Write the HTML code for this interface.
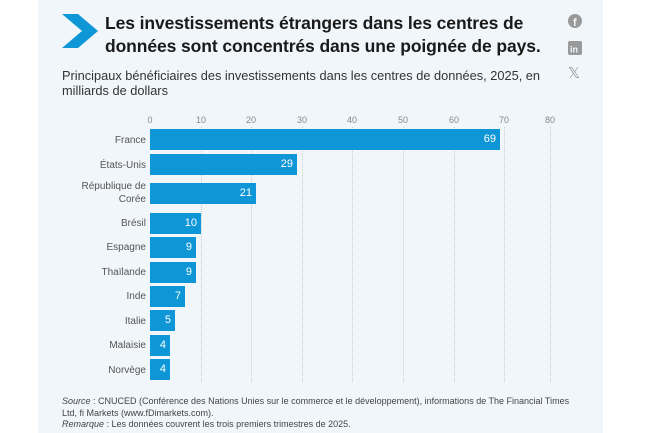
<!DOCTYPE html>
<html><head><meta charset="utf-8"><style>
body{margin:0;width:650px;height:433px;background:#fff;overflow:hidden;font-family:"Liberation Sans",sans-serif;position:relative}
.card{position:absolute;left:38px;top:0;width:565px;height:433px;background:#f1f6fb}
.t{position:absolute;font-size:17.5px;font-weight:bold;color:#1a1a1a;line-height:23px;left:105px;top:12px;width:450px;letter-spacing:-0.1px}
.sub{position:absolute;left:62px;top:68px;font-size:12.8px;color:#333;line-height:15px;white-space:nowrap}
.tick{position:absolute;top:115px;font-size:9px;color:#888;transform:translateX(-50%)}
.grid{position:absolute;top:127px;height:255px;border-left:1px dotted #c8ccd0}
.bar{position:absolute;left:150px;height:21px;background:#0e96d6}
.val{position:absolute;color:#fff;font-size:11px;right:4px;top:4px}
.lab{position:absolute;right:504px;font-size:10px;color:#555;text-align:right;line-height:13px}
.src{position:absolute;left:62px;top:396px;font-size:9px;color:#444;line-height:11.5px;white-space:nowrap}
.ic{position:absolute;left:568px;color:#999;font-size:14px}
</style></head><body>
<div class="card"></div>
<svg style="position:absolute;left:62px;top:14px" width="36" height="34"><polygon points="0,0 16,0 36,17 16,34 0,34 20,17" fill="#0e96d6"/></svg>
<div class="t">Les investissements étrangers dans les centres de données sont concentrés dans une poignée de pays.</div>
<div class="ic" style="top:14px"><svg width="14" height="14"><circle cx="7" cy="7" r="7" fill="#999"/><text x="5" y="12" fill="#f1f6fb" font-size="11" font-weight="bold" font-family="Liberation Sans">f</text></svg></div>
<div class="ic" style="top:41px"><svg width="14" height="14"><rect width="14" height="14" rx="2" fill="#999"/><text x="2" y="11.5" fill="#f1f6fb" font-size="9" font-weight="bold" font-family="Liberation Sans">in</text></svg></div>
<div class="ic" style="top:64px;font-size:15px">𝕏</div>
<div class="sub">Principaux bénéficiaires des investissements dans les centres de données, 2025, en<br>milliards de dollars</div>
<div class="tick" style="left:150px">0</div><div class="tick" style="left:201px">10</div><div class="tick" style="left:251px">20</div><div class="tick" style="left:302px">30</div><div class="tick" style="left:352px">40</div><div class="tick" style="left:403px">50</div><div class="tick" style="left:454px">60</div><div class="tick" style="left:504px">70</div><div class="tick" style="left:550px">80</div>
<div class="grid" style="left:201px"></div><div class="grid" style="left:251px"></div><div class="grid" style="left:302px"></div><div class="grid" style="left:352px"></div><div class="grid" style="left:403px"></div><div class="grid" style="left:454px"></div><div class="grid" style="left:504px"></div><div class="grid" style="left:550px"></div>
<div class="bar" style="top:129px;width:350px"><span class="val">69</span></div>
<div class="bar" style="top:154px;width:147px"><span class="val">29</span></div>
<div class="bar" style="top:183px;width:106px"><span class="val">21</span></div>
<div class="bar" style="top:213px;width:51px"><span class="val">10</span></div>
<div class="bar" style="top:237px;width:46px"><span class="val">9</span></div>
<div class="bar" style="top:262px;width:46px"><span class="val">9</span></div>
<div class="bar" style="top:286px;width:35px"><span class="val">7</span></div>
<div class="bar" style="top:310px;width:25px"><span class="val">5</span></div>
<div class="bar" style="top:335px;width:20px"><span class="val">4</span></div>
<div class="bar" style="top:359px;width:20px"><span class="val">4</span></div>
<div class="lab" style="top:134px">France</div>
<div class="lab" style="top:159px">États-Unis</div>
<div class="lab" style="top:180px">République de<br>Corée</div>
<div class="lab" style="top:217px">Brésil</div>
<div class="lab" style="top:241px">Espagne</div>
<div class="lab" style="top:266px">Thaïlande</div>
<div class="lab" style="top:290px">Inde</div>
<div class="lab" style="top:315px">Italie</div>
<div class="lab" style="top:339px">Malaisie</div>
<div class="lab" style="top:364px">Norvège</div>
<div class="src"><i>Source</i> : CNUCED (Conférence des Nations Unies sur le commerce et le développement), informations de The Financial Times<br>Ltd, fi Markets (www.fDimarkets.com).<br><i>Remarque</i> : Les données couvrent les trois premiers trimestres de 2025.</div>
</body></html>
